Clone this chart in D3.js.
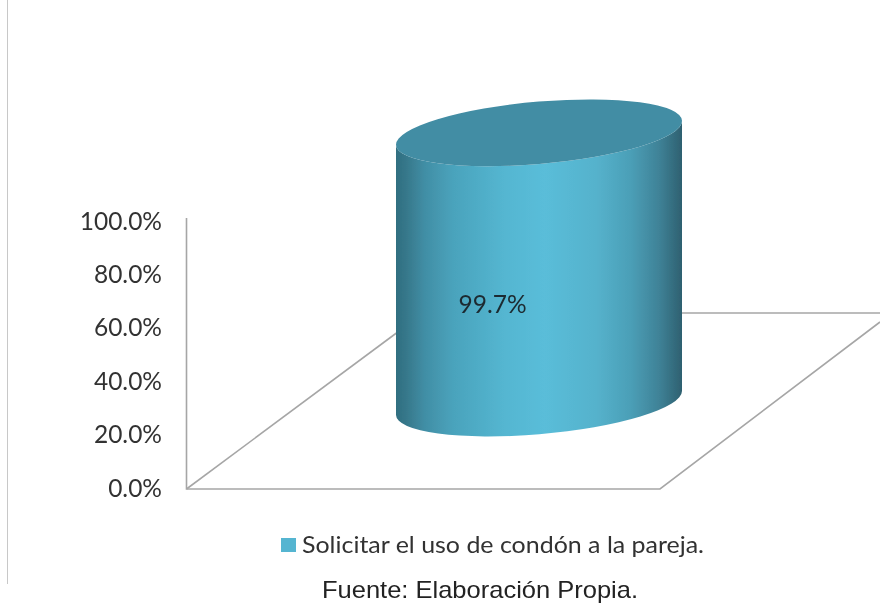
<!DOCTYPE html>
<html><head><meta charset="utf-8">
<script src="https://cdn.jsdelivr.net/npm/d3@7"></script>
<style>html,body{margin:0;padding:0;background:#fff}svg{display:block}</style>
</head><body><svg id="c" width="880" height="603"></svg>
<script>
const categories = ["Solicitar el uso de condón a la pareja."];
const values = [99.7];
const valueLabels = ["99.7%"];
const tickValues = [0, 20, 40, 60, 80, 100];
const sourceText = "Fuente: Elaboración Propia.";

const svg = d3.select("#c");
const defs = svg.append("defs");
defs.append("filter").attr("id","soft").attr("x","-5%").attr("y","-5%").attr("width","110%").attr("height","110%")
  .append("feGaussianBlur").attr("stdDeviation",0.4);
const grad = defs.append("linearGradient").attr("id","cyl").attr("gradientUnits","userSpaceOnUse")
  .attr("x1",396).attr("x2",682).attr("y1",0).attr("y2",0);
[[0,"#2f6e80"],[0.04,"#37798c"],[0.1,"#418ea5"],[0.2,"#4aa3bc"],[0.38,"#54b6d1"],[0.52,"#5abdd9"],[0.7,"#55b2cc"],[0.82,"#4b9fb7"],[0.92,"#3f8297"],[1,"#2e6070"]]
 .forEach(([o,c])=>grad.append("stop").attr("offset",o).attr("stop-color",c));

const root = svg.append("g").attr("filter","url(#soft)");

// frame line
root.append("line").attr("x1",7.5).attr("x2",7.5).attr("y1",0).attr("y2",584).attr("stroke","#c8c8c8").attr("stroke-width",1);

const y = d3.scaleLinear().domain([0,100]).range([489,218]);
const labelY = d3.scaleLinear().domain([0,100]).range([488,221]);
const depth = {dx:214, dy:-159};
const wallColor = "#a6a6a6";

const x0 = 186.5, x1 = 660, xr = 880;
const floor = d3.line();
const g = root.append("g").attr("fill","none").attr("stroke",wallColor).attr("stroke-width",1.6);
g.append("path").attr("d",floor([[x0,y(100)],[x0,y(0)],[x1,y(0)],[xr,322]]));
g.append("path").attr("d",floor([[x0,y(0)],[x0+depth.dx,y(0)+depth.dy]]));
g.append("path").attr("d",floor([[681,313],[xr,313]]));

// y tick labels
root.append("g").selectAll("text").data(tickValues).join("text")
  .attr("x",162).attr("y",d=>labelY(d)).attr("dy","0.35em").attr("text-anchor","end")
  .attr("font-family","Lato, 'Open Sans', sans-serif").attr("font-size",24.5).attr("fill","#333")
  .text(d=>d3.format(".1f")(d)+"%");

// cylinder
const xBand = d3.scaleBand().domain(categories).range([396,682]);
const heightOf = v => y(0)-y(v);
const rx = xBand.bandwidth()/2, ry = 31, rot = -5;
const leftBase = 415, rightBase = 391;
categories.forEach((c,i)=>{
  const xl = xBand(c), xrr = xl+xBand.bandwidth(), h = heightOf(values[i]);
  const lt = leftBase-h, rt = rightBase-h;
  root.append("path")
    .attr("d",`M${xl},${lt}L${xl},${leftBase}A${rx},${ry} ${rot} 0 0 ${xrr},${rightBase}L${xrr},${rt}A${rx},${ry} ${rot} 0 1 ${xl},${lt}Z`)
    .attr("fill","url(#cyl)");
  root.append("path")
    .attr("d",`M${xl},${lt}A${rx},${ry} ${rot} 0 0 ${xrr},${rt}A${rx},${ry} ${rot} 0 0 ${xl},${lt}Z`)
    .attr("fill","#438da4");
  root.append("text").attr("x",492.5).attr("y",304).attr("dy","0.35em").attr("text-anchor","middle")
    .attr("font-family","Lato, 'Open Sans', sans-serif").attr("font-size",24.5).attr("fill","#1d2a30").text(valueLabels[i]);
});

// legend
root.append("rect").attr("x",281).attr("y",538).attr("width",15).attr("height",14).attr("fill","#55b5d1");
root.append("text").attr("x",302).attr("y",545).attr("dy","0.35em")
  .attr("font-family","Lato, 'Open Sans', sans-serif").attr("font-size",24).attr("fill","#333")
  .attr("textLength",402).attr("lengthAdjust","spacingAndGlyphs").text(categories[0]);

root.append("text").attr("x",322).attr("y",598)
  .attr("font-family","'Liberation Sans', Arial, sans-serif").attr("font-size",24).attr("fill","#222")
  .attr("textLength",316).attr("lengthAdjust","spacingAndGlyphs").text(sourceText);
</script></body></html>
